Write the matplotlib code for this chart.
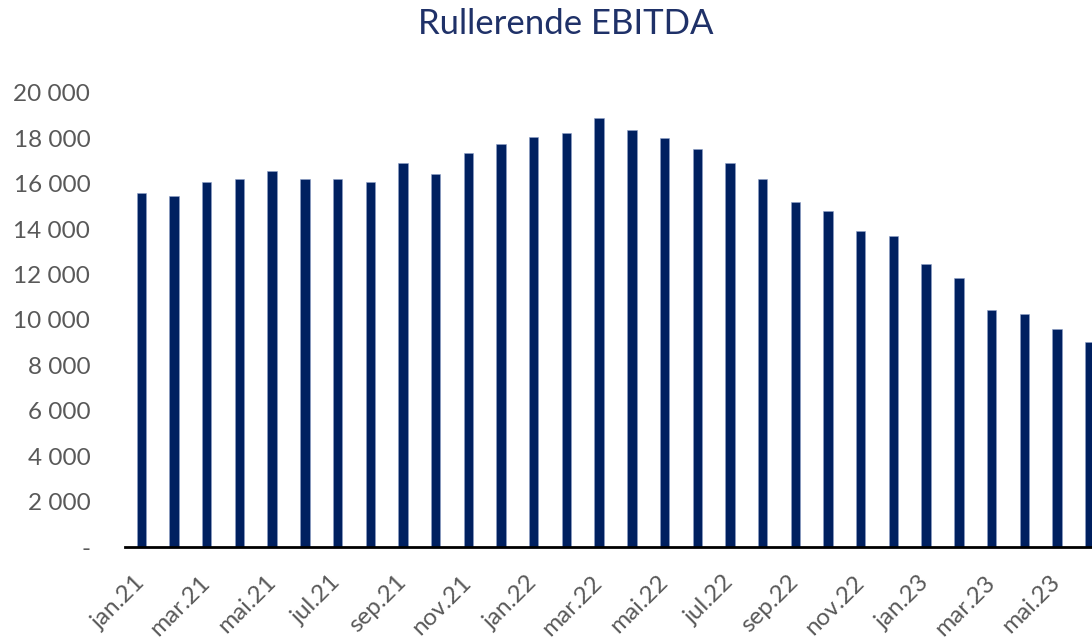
import matplotlib
matplotlib.use("Agg")
import matplotlib.pyplot as plt

months = ["jan.21", "feb.21", "mar.21", "apr.21", "mai.21", "jun.21", "jul.21", "aug.21",
          "sep.21", "okt.21", "nov.21", "des.21", "jan.22", "feb.22", "mar.22", "apr.22",
          "mai.22", "jun.22", "jul.22", "aug.22", "sep.22", "okt.22", "nov.22", "des.22",
          "jan.23", "feb.23", "mar.23", "apr.23", "mai.23", "jun.23"]
ebitda = [15600, 15480, 16100, 16220, 16580, 16220, 16220, 16100, 16910, 16440,
          17350, 17750, 18080, 18220, 18890, 18360, 18000, 17520, 16910, 16230,
          15210, 14790, 13900, 13700, 12460, 11850, 10420, 10280, 9590, 9050]
yticks = [0, 2000, 4000, 6000, 8000, 10000, 12000, 14000, 16000, 18000, 20000]
ytick_labels = ["-", "2 000", "4 000", "6 000", "8 000", "10 000", "12 000",
                "14 000", "16 000", "18 000", "20 000"]
title = "Rullerende EBITDA"

plt.rcParams['font.family'] = ['Lato', 'DejaVu Sans']

fig = plt.figure(figsize=(10.92, 6.43), dpi=100)
W, H = 1092, 643
left_px, slot = 125, 32.7
ax = fig.add_axes([left_px / W, (H - 547) / H, 30 * slot / W, (547 - 93) / H])

x = list(range(len(months)))
ax.bar(x, ebitda, width=0.29, color="#002060", edgecolor="#8EA0C8", linewidth=0.4, zorder=2)
ax.set_xlim(-0.5, len(months) - 0.5)
ax.set_ylim(0, 20000)

for s in ["top", "right", "left"]:
    ax.spines[s].set_visible(False)
ax.spines["bottom"].set_color("black")
ax.spines["bottom"].set_linewidth(2.0)
ax.spines["bottom"].set_zorder(3)

ax.set_yticks(yticks)
ax.set_yticklabels(ytick_labels)
ax.tick_params(axis="y", length=0, pad=25, labelsize=17.5, labelcolor="#595959")

ax.set_xticks(x[::2])
ax.set_xticklabels(months[::2], rotation=45, ha="right", va="center", rotation_mode="anchor")
ax.tick_params(axis="x", length=0, pad=23, labelsize=17.5, labelcolor="#595959")

fig.text(566 / W, 1 - 33.5 / H, title, ha="center", va="baseline", fontsize=25, color="#1F3168")

fig.savefig("out.png", dpi=100)
